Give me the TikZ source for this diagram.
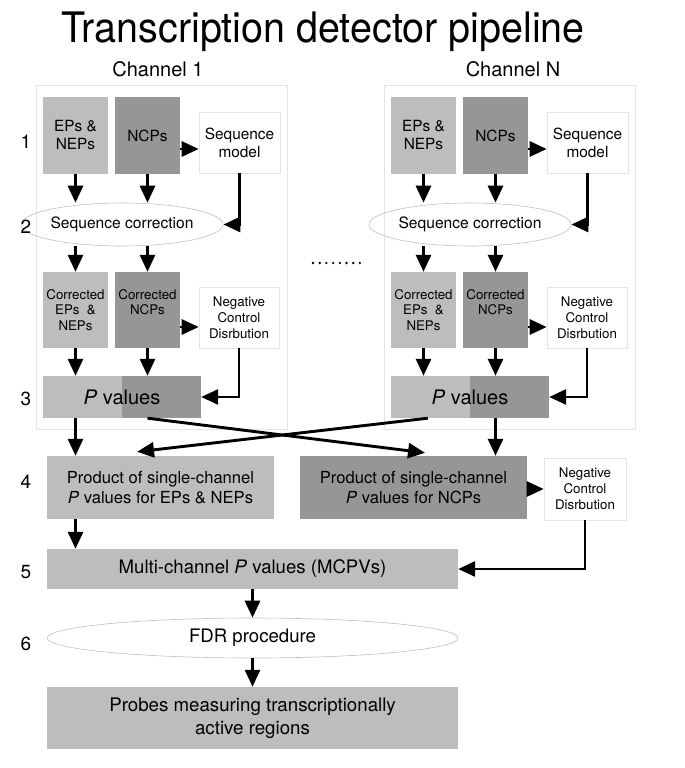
\documentclass[tikz,border=0pt]{standalone}
\usepackage{fontspec}
\setmainfont{TeX Gyre Heros}
\newfontfamily\titlefont[FakeStretch=0.94]{TeX Gyre Heros}
\usetikzlibrary{arrows.meta,shapes.geometric}
\colorlet{lightgr}{black!26}
\colorlet{darkgr}{black!41}
\tikzset{
  box/.style={rectangle,inner sep=1pt,align=center,font=\fontsize{15.4}{18}\selectfont},
  lightbox/.style={box,fill=lightgr},
  darkbox/.style={box,fill=darkgr},
  whitebox/.style={box,draw=black!10,line width=0.6pt,fill=white},
  smallfont/.style={font=\fontsize{13.3}{15.8}\selectfont},
  oval/.style={ellipse,draw=black!25,line width=0.6pt,inner sep=0pt,font=\fontsize{15.6}{18}\selectfont},
  arr/.style={line width=2.9pt,-{Triangle[length=17pt,width=15pt]}},
  steplabel/.style={font=\fontsize{19}{19}\selectfont},
  halfdark/.style={path picture={\fill[darkgr] (path picture bounding box.north) rectangle (path picture bounding box.south east);}}
}
\begin{document}
\begin{tikzpicture}[x=1pt,y=-1pt]
\useasboundingbox (0,0) rectangle (685,768);
\node[font=\titlefont\fontsize{42}{42}\selectfont,anchor=base] (title) at (323,43) {Transcription detector pipeline};
%== the two channels
\foreach \ch/\dx/\lx in {1/0/158,N/348/513}{
  \draw[black!10,line width=0.8pt] (36+\dx,85) rectangle (287+\dx,429);
  \node[font=\fontsize{20}{20}\selectfont,anchor=base] (lab\ch) at (\lx,77) {Channel \ch};
  \node[lightbox,minimum width=65pt,minimum height=77pt] (ep\ch) at (75.5+\dx,135.5) {EPs \&\\NEPs};
  \node[darkbox,minimum width=65pt,minimum height=77pt] (ncp\ch) at (147.5+\dx,135.5) {NCPs};
  \node[whitebox,minimum width=81pt,minimum height=61pt] (sm\ch) at (239.5+\dx,142.5) {Sequence\\model};
  \node[oval,minimum width=162pt,minimum height=43pt] (sc\ch) at (122+\dx,224.5) {Sequence correction};
  \node[lightbox,smallfont,minimum width=65pt,minimum height=76pt] (cep\ch) at (75.5+\dx,310) {Corrected\\EPs~~\&\\NEPs};
  \node[darkbox,smallfont,minimum width=65pt,minimum height=76pt] (cncp\ch) at (147.5+\dx,310) {Corrected\\NCPs\\~};
  \node[whitebox,smallfont,minimum width=80pt,minimum height=61pt] (ncd\ch) at (239+\dx,317.5) {Negative\\Control\\Disrbution};
  \node[lightbox,halfdark,font=\fontsize{20}{20}\selectfont,minimum width=158pt,minimum height=42pt] (pv\ch) at (122+\dx,397) {\textit{P} values};
  \draw[arr] (ep\ch) -- (ep\ch |- sc\ch.north);
  \draw[arr] (ncp\ch) -- (ncp\ch |- sc\ch.north);
  \draw[arr] ([yshift=-13.5pt]ncp\ch.east) -- ([yshift=-6.5pt]sm\ch.west);
  \draw[arr] (sm\ch.south) |- (sc\ch.east);
  \draw[arr] (ep\ch |- sc\ch.south) -- (cep\ch);
  \draw[arr] (ncp\ch |- sc\ch.south) -- (cncp\ch);
  \draw[arr] ([yshift=-17pt]cncp\ch.east) -- ([yshift=-9.5pt]ncd\ch.west);
  \draw[arr] (ncd\ch.south) |- (pv\ch.east);
  \draw[arr] (cep\ch) -- (cep\ch |- pv\ch.north);
  \draw[arr] (cncp\ch) -- (cncp\ch |- pv\ch.north);
}
\foreach \i in {0,...,7} \fill (313+\i*6.7,263) circle (1.3pt);
%== combining the channels
\node[lightbox,font=\fontsize{16.6}{20}\selectfont,minimum width=227pt,minimum height=63pt] (prodA) at (160.5,487.5) {Product of single-channel\\\textit{P} values for EPs \& NEPs};
\node[darkbox,font=\fontsize{16.6}{20}\selectfont,minimum width=227pt,minimum height=63pt] (prodB) at (413.5,487.5) {Product of single-channel\\\textit{P} values for NCPs};
\node[whitebox,smallfont,minimum width=82pt,minimum height=62pt] (ncdB) at (585,489) {Negative\\Control\\Disrbution};
\node[lightbox,font=\fontsize{18.6}{22}\selectfont,minimum width=411pt,minimum height=40pt] (mcpv) at (252.5,569) {Multi-channel \textit{P} values (MCPVs)};
\node[oval,font=\fontsize{18.6}{22}\selectfont,minimum width=411pt,minimum height=40pt] (fdr) at (252.5,638) {FDR procedure};
\node[lightbox,font=\fontsize{18.7}{23}\selectfont,minimum width=411pt,minimum height=62pt] (probes) at (252.5,718) {Probes measuring transcriptionally\\active regions};
\draw[arr] (cep1 |- pv1.south) -- (cep1 |- prodA.north);
\draw[arr] (cncpN |- pvN.south) -- (cncpN |- prodB.north);
\draw[arr] (cncp1 |- pv1.south) -- ([xshift=11.5pt,yshift=3pt]prodB.north);
\draw[arr] ([xshift=37pt]pvN.south west) -- ([xshift=-23.5pt,yshift=4pt]prodA.north);
\draw[arr] (cep1 |- prodA.south) -- (cep1 |- mcpv.north);
\draw[arr] (prodB.east |- ncdB.west) -- (ncdB.west);
\draw[arr] (ncdB.south) |- (mcpv.east);
\draw[arr] (mcpv) -- (fdr);
\draw[arr] (fdr) -- (probes);
\foreach \n/\y in {1/142,2/227,3/399,4/482,5/572,6/644} \node[steplabel] (st\n) at (26,\y) {\n};
\end{tikzpicture}
\end{document}
